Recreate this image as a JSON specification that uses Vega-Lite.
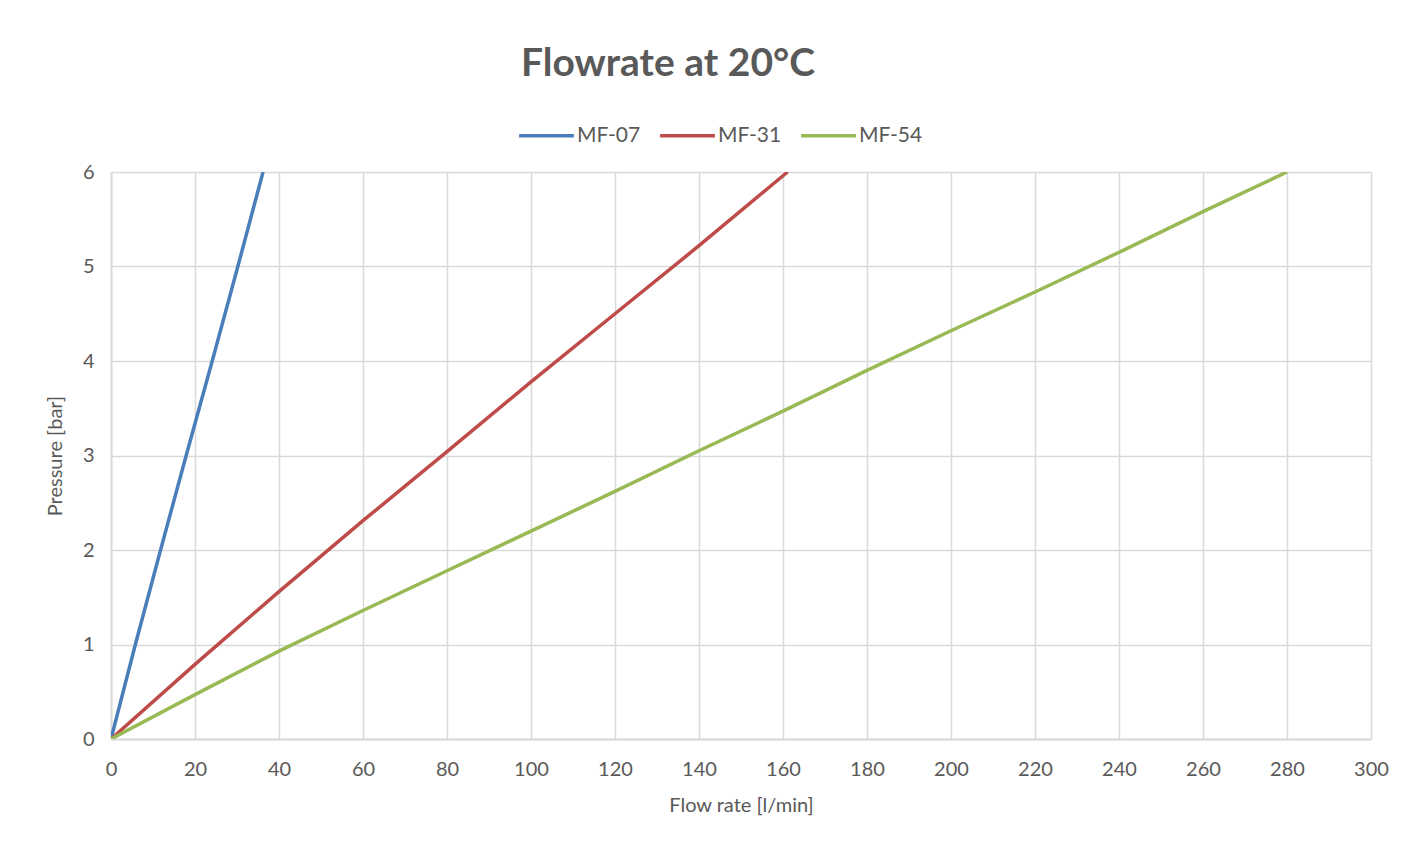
{
  "$schema": "https://vega.github.io/schema/vega-lite/v6.json",
  "width": 1260,
  "height": 567,
  "autosize": {"type": "none"},
  "padding": {"left": 111, "top": 172, "right": 55, "bottom": 109},
  "background": "white",
  "title": {
    "text": "Flowrate at 20°C",
    "font": "Lato",
    "fontSize": 39,
    "fontWeight": "bold",
    "color": "#595959",
    "anchor": "middle",
    "dx": -73,
    "offset": 22
  },
  "data": {
    "values": [
      {"series": "MF-07", "flow": 0, "pressure": 0},
      {"series": "MF-07", "flow": 5.8, "pressure": 1},
      {"series": "MF-07", "flow": 11.8, "pressure": 2},
      {"series": "MF-07", "flow": 17.9, "pressure": 3},
      {"series": "MF-07", "flow": 24.1, "pressure": 4},
      {"series": "MF-07", "flow": 30.2, "pressure": 5},
      {"series": "MF-07", "flow": 36.2, "pressure": 6},
      {"series": "MF-31", "flow": 0, "pressure": 0},
      {"series": "MF-31", "flow": 20, "pressure": 0.79},
      {"series": "MF-31", "flow": 40, "pressure": 1.56},
      {"series": "MF-31", "flow": 60, "pressure": 2.31},
      {"series": "MF-31", "flow": 80, "pressure": 3.04},
      {"series": "MF-31", "flow": 100, "pressure": 3.78},
      {"series": "MF-31", "flow": 120, "pressure": 4.5},
      {"series": "MF-31", "flow": 140, "pressure": 5.22},
      {"series": "MF-31", "flow": 160, "pressure": 5.96},
      {"series": "MF-31", "flow": 161.1, "pressure": 6},
      {"series": "MF-54", "flow": 0, "pressure": 0},
      {"series": "MF-54", "flow": 20, "pressure": 0.47},
      {"series": "MF-54", "flow": 40, "pressure": 0.93},
      {"series": "MF-54", "flow": 60, "pressure": 1.36},
      {"series": "MF-54", "flow": 80, "pressure": 1.78},
      {"series": "MF-54", "flow": 100, "pressure": 2.2},
      {"series": "MF-54", "flow": 120, "pressure": 2.62},
      {"series": "MF-54", "flow": 140, "pressure": 3.05},
      {"series": "MF-54", "flow": 160, "pressure": 3.47},
      {"series": "MF-54", "flow": 180, "pressure": 3.9},
      {"series": "MF-54", "flow": 200, "pressure": 4.32},
      {"series": "MF-54", "flow": 220, "pressure": 4.73},
      {"series": "MF-54", "flow": 240, "pressure": 5.15},
      {"series": "MF-54", "flow": 260, "pressure": 5.58},
      {"series": "MF-54", "flow": 280, "pressure": 6.0}
    ]
  },
  "mark": {"type": "line", "strokeWidth": 3.5, "clip": true},
  "encoding": {
    "x": {
      "field": "flow",
      "type": "quantitative",
      "scale": {"domain": [0, 300], "nice": false},
      "axis": {
        "title": "Flow rate [l/min]",
        "values": [0, 20, 40, 60, 80, 100, 120, 140, 160, 180, 200, 220, 240, 260, 280, 300],
        "labelFlush": false,
        "labelPadding": 20,
        "titlePadding": 16
      }
    },
    "y": {
      "field": "pressure",
      "type": "quantitative",
      "scale": {"domain": [0, 6], "nice": false},
      "axis": {
        "title": "Pressure [bar]",
        "values": [0, 1, 2, 3, 4, 5, 6],
        "labelPadding": 17,
        "titlePadding": 17
      }
    },
    "color": {
      "field": "series",
      "type": "nominal",
      "scale": {"domain": ["MF-07", "MF-31", "MF-54"], "range": ["#4A7EBB", "#BE4B48", "#98B954"]},
      "legend": {
        "title": null,
        "orient": "none",
        "direction": "horizontal",
        "legendX": 406,
        "legendY": -66,
        "symbolType": "stroke",
        "symbolSize": 3000,
        "symbolStrokeWidth": 3.5,
        "labelFont": "Lato",
        "labelFontSize": 21,
        "labelColor": "#595959",
        "labelOffset": 1,
        "columnPadding": 12
      }
    }
  },
  "config": {
    "font": "Lato",
    "view": {"stroke": null},
    "axis": {
      "grid": true,
      "gridColor": "#D9D9D9",
      "gridWidth": 1.5,
      "domain": true,
      "domainColor": "#D9D9D9",
      "domainWidth": 2,
      "ticks": false,
      "labelFont": "Lato",
      "labelFontSize": 20,
      "labelColor": "#595959",
      "titleFont": "Lato",
      "titleFontSize": 20,
      "titleFontWeight": "normal",
      "titleColor": "#595959"
    }
  }
}
